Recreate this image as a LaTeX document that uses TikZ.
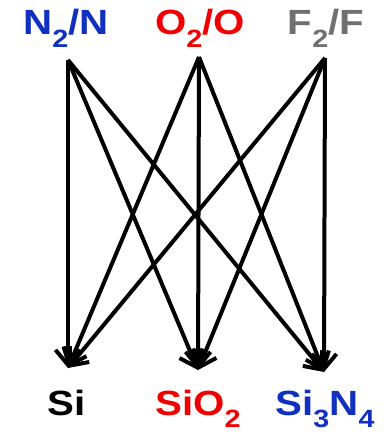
\documentclass[tikz,border=0pt]{standalone}
\usepackage{fontspec}
\setmainfont{Liberation Sans}[FakeStretch=1.15]
\usetikzlibrary{arrows.meta}

\definecolor{nblue}{RGB}{16,48,192}
\definecolor{ored}{RGB}{240,0,0}
\definecolor{fgray}{RGB}{112,112,112}

\newcommand{\lowsub}[1]{\raisebox{-0.36em}{\fontsize{25}{25}\selectfont #1}}

\tikzset{
  species/.style={font=\fontsize{35}{40}\selectfont\bfseries, inner sep=0pt, anchor=base},
  path/.style={line width=4pt, -{Straight Barb[length=15pt,width=25pt,line width=4pt]}}
}

\begin{document}
\begin{tikzpicture}[x=1pt,y=-1pt]

\useasboundingbox (0,0) rectangle (385,435);

\node[species, text=nblue] (n) at (66,35) {N\lowsub{2}/N};
\node[species, text=ored] (o) at (200,35) {O\lowsub{2}/O};
\node[species, text=fgray] (f) at (326,35) {F\lowsub{2}/F};

\node[species] (si) at (67,415) {Si};
\node[species, text=ored] (sio) at (198,415) {SiO\lowsub{2}};
\node[species, text=nblue] (sin) at (325,415) {Si\lowsub{3}N\lowsub{4}};

\coordinate (n top) at (68,60);
\coordinate (o top) at (199,57);
\coordinate (f top) at (325,58);

\coordinate (si end) at (68,368);
\coordinate (sio end) at (198,370);
\coordinate (sin end) at (324,372);

\draw[path] (n top) -- (si end);
\draw[path] (n top) -- (sio end);
\draw[path] (n top) -- (sin end);

\draw[path] (o top) -- (si end);
\draw[path] (o top) -- (sio end);
\draw[path] (o top) -- (sin end);

\draw[path] (f top) -- (si end);
\draw[path] (f top) -- (sio end);
\draw[path] (f top) -- (sin end);

\end{tikzpicture}
\end{document}
